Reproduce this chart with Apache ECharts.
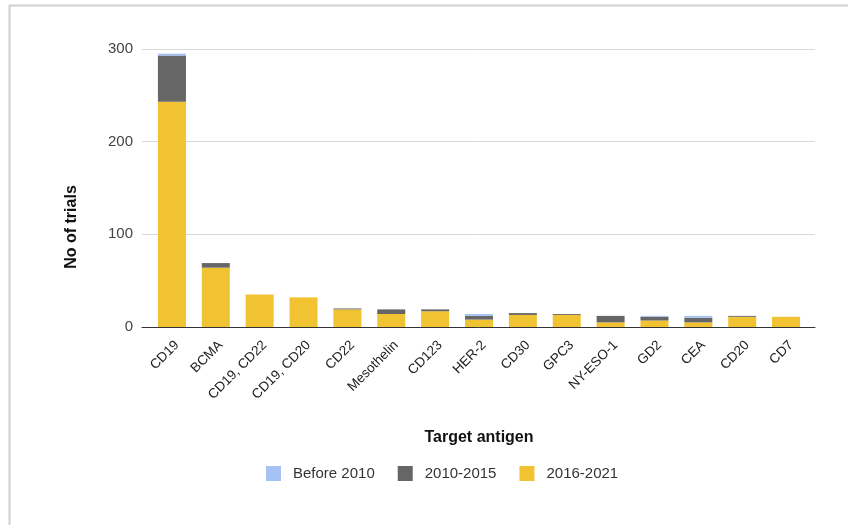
<!DOCTYPE html>
<html>
<head>
<meta charset="utf-8">
<script src="https://cdn.jsdelivr.net/npm/echarts@6/dist/echarts.min.js"></script>
<style>
  html, body { margin: 0; padding: 0; background: #fff; }
  #chart { width: 848px; height: 525px; }
</style>
</head>
<body>
<div id="chart"></div>
<script>
// Target antigens of CAR-T trials, stacked by registration period
const categories = ['CD19', 'BCMA', 'CD19, CD22', 'CD19, CD20', 'CD22', 'Mesothelin', 'CD123',
  'HER-2', 'CD30', 'GPC3', 'NY-ESO-1', 'GD2', 'CEA', 'CD20', 'CD7'];
const before2010 = [2, 0, 0, 0, 0, 0, 0, 2, 0, 0, 0, 1, 2, 0, 0];
const y2010to2015 = [50, 5, 0, 0, 1, 5, 2, 4, 2, 1, 7, 4, 5, 1, 0];
const y2016to2021 = [243, 64, 35, 32, 19, 14, 17, 8, 13, 13, 5, 7, 5, 11, 11];
const seriesNames = ['Before 2010', '2010-2015', '2016-2021'];
const yTicks = { min: 0, max: 300, interval: 100 };

const colors = ['#a4c2f4', '#666666', '#f1c232'];
const font = 'Liberation Sans, Arial, sans-serif';

const chart = echarts.init(document.getElementById('chart'), null, { renderer: 'canvas' });

// Bars are stacked bottom-up: 2016-2021, then 2010-2015, then Before 2010
const stackOrder = [
  { name: seriesNames[2], data: y2016to2021, color: colors[2] },
  { name: seriesNames[1], data: y2010to2015, color: colors[1] },
  { name: seriesNames[0], data: before2010, color: colors[0] }
];

chart.setOption({
  backgroundColor: '#ffffff',
  animation: false,
  textStyle: { fontFamily: font },
  color: colors,
  grid: [
    // grid 0 holds the bars
    { left: 150, right: 40, top: 49, bottom: 198 },
    // grid 1 draws the wider gridlines, tick labels and baseline
    { left: 142, right: 33, top: 49, bottom: 198 },
    // grid 2 carries the slanted category labels, nudged right of the bar centres
    { left: 155, right: 35, top: 49, bottom: 198 }
  ],
  xAxis: [
    {
      type: 'category', gridIndex: 0, data: categories,
      axisLine: { show: false }, axisTick: { show: false }, axisLabel: { show: false }
    },
    {
      type: 'value', gridIndex: 1, min: 0, max: 1,
      axisLine: { show: true, onZero: false, lineStyle: { color: '#333', width: 1 } },
      axisTick: { show: false }, axisLabel: { show: false }, splitLine: { show: false }
    },
    {
      type: 'category', gridIndex: 2, data: categories,
      axisLine: { show: false }, axisTick: { show: false },
      axisLabel: { rotate: 45, fontSize: 13.5, color: '#222', margin: 16, interval: 0, fontFamily: font }
    }
  ],
  yAxis: [
    {
      type: 'value', gridIndex: 0, min: yTicks.min, max: yTicks.max, interval: yTicks.interval,
      axisLine: { show: false }, axisTick: { show: false }, axisLabel: { show: false }, splitLine: { show: false }
    },
    {
      type: 'value', gridIndex: 1, min: yTicks.min, max: yTicks.max, interval: yTicks.interval,
      axisLine: { show: false }, axisTick: { show: false },
      axisLabel: { fontSize: 15, color: '#444', margin: 9, fontFamily: font },
      splitLine: { lineStyle: { color: '#d9d9d9', width: 1 } }
    },
    {
      type: 'value', gridIndex: 2, min: yTicks.min, max: yTicks.max, interval: yTicks.interval,
      show: false
    }
  ],
  legend: {
    data: seriesNames,
    left: 261, top: 461,
    itemWidth: 15, itemHeight: 15, itemGap: 23,
    icon: 'rect',
    textStyle: { fontSize: 15, color: '#333', fontFamily: font, padding: [0, 0, 0, 7] }
  },
  series: stackOrder.map(s => ({
    name: s.name,
    type: 'bar',
    stack: 'trials',
    xAxisIndex: 0, yAxisIndex: 0,
    barWidth: 28,
    data: s.data,
    itemStyle: { color: s.color }
  })),
  graphic: [
    {
      type: 'rect', silent: true,
      shape: { x: 9.5, y: 5.5, width: 900, height: 600 },
      style: { fill: 'none', stroke: '#cfcfcf', lineWidth: 2 }
    },
    {
      type: 'text', x: 72, y: 227, rotation: Math.PI / 2,
      style: { text: 'No of trials', font: 'bold 16px ' + font, fill: '#111', align: 'center', verticalAlign: 'middle' }
    },
    {
      type: 'text', x: 479, y: 438,
      style: { text: 'Target antigen', font: 'bold 16px ' + font, fill: '#111', align: 'center', verticalAlign: 'middle' }
    }
  ]
});
</script>
</body>
</html>
